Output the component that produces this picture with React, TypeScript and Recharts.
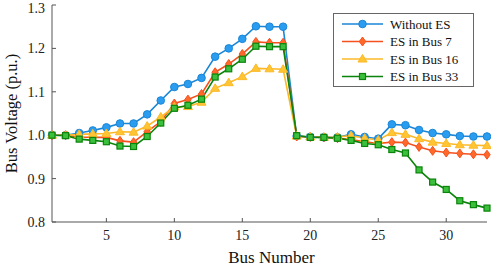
import { LineChart, Line, XAxis, YAxis, Legend } from "recharts"

const buses = [1, 2, 3, 4, 5, 6, 7, 8, 9, 10, 11, 12, 13, 14, 15, 16, 17, 18, 19, 20, 21, 22, 23, 24, 25, 26, 27, 28, 29, 30, 31, 32, 33]

const withoutEs = [1.0, 1.0, 1.005, 1.011, 1.018, 1.027, 1.027, 1.048, 1.08, 1.111, 1.118, 1.132, 1.181, 1.2, 1.222, 1.251, 1.25, 1.25, 0.998, 0.996, 0.995, 0.995, 1.002, 0.996, 0.992, 1.025, 1.023, 1.012, 1.005, 1.002, 0.998, 0.997, 0.997]
const esBus7 = [1.0, 1.0, 0.996, 0.995, 0.995, 0.987, 0.984, 1.008, 1.031, 1.073, 1.082, 1.095, 1.145, 1.164, 1.187, 1.215, 1.213, 1.213, 0.997, 0.996, 0.995, 0.993, 0.99, 0.985, 0.981, 0.984, 0.983, 0.973, 0.964, 0.96, 0.958, 0.956, 0.955]
const esBus16 = [1.0, 1.0, 1.002, 1.003, 1.004, 1.008, 1.007, 1.021, 1.042, 1.065, 1.066, 1.076, 1.108, 1.121, 1.135, 1.154, 1.153, 1.152, 0.998, 0.996, 0.995, 0.996, 0.999, 0.993, 0.989, 1.006, 1.002, 0.992, 0.984, 0.981, 0.978, 0.977, 0.976]
const esBus33 = [1.0, 0.999, 0.991, 0.988, 0.985, 0.975, 0.974, 0.997, 1.028, 1.062, 1.069, 1.083, 1.134, 1.153, 1.175, 1.205, 1.204, 1.204, 0.999, 0.995, 0.995, 0.993, 0.988, 0.981, 0.978, 0.967, 0.959, 0.92, 0.892, 0.875, 0.849, 0.84, 0.832]

const xTicks = [5, 10, 15, 20, 25, 30]
const yTicks = [0.8, 0.9, 1.0, 1.1, 1.2, 1.3]

const data = buses.map((bus, i) => ({
  bus,
  withoutEs: withoutEs[i],
  esBus7: esBus7[i],
  esBus16: esBus16[i],
  esBus33: esBus33[i],
}))

const series = [
  { key: "withoutEs", name: "Without ES", color: "#1a86d6", fill: "#2a9df0", shape: "circle" },
  { key: "esBus7", name: "ES in Bus 7", color: "#f4511e", fill: "#ff6a2a", shape: "diamond" },
  { key: "esBus16", name: "ES in Bus 16", color: "#fdb827", fill: "#ffc533", shape: "triangle" },
  { key: "esBus33", name: "ES in Bus 33", color: "#0a840a", fill: "#3cbf3c", shape: "square" },
]

const font = '"Times New Roman", "Liberation Serif", "DejaVu Serif", serif'
const axisColor = "#555"

function Marker({ cx, cy, shape, color, fill }: any) {
  if (cx == null || cy == null) return null
  if (shape === "circle") return <circle cx={cx} cy={cy} r={3.8} fill={fill} stroke={color} strokeWidth={1} />
  if (shape === "diamond")
    return <polygon points={`${cx},${cy - 4.5} ${cx + 3.2},${cy} ${cx},${cy + 4.5} ${cx - 3.2},${cy}`} fill={fill} stroke={color} strokeWidth={1} />
  if (shape === "triangle")
    return <polygon points={`${cx},${cy - 4.5} ${cx + 4.5},${cy + 3} ${cx - 4.5},${cy + 3}`} fill={fill} stroke={color} strokeWidth={1} />
  return <rect x={cx - 3} y={cy - 3} width={6} height={6} fill={fill} stroke={color} strokeWidth={1.2} />
}

function LegendBox() {
  return (
    <svg width={141} height={74} style={{ display: "block" }}>
      <rect x={0.5} y={0.5} width={140} height={73} fill="#fff" stroke="#666" strokeWidth={1} />
      {series.map((s, i) => {
        const y = 11 + i * 17.5
        return (
          <g key={s.key}>
            <line x1={9} x2={50} y1={y} y2={y} stroke={s.color} strokeWidth={1.6} />
            <Marker cx={29.5} cy={y} shape={s.shape} color={s.color} fill={s.fill} />
            <text x={57} y={y + 4.5} fontSize={13} style={{ fontFamily: font }} fill="#111">
              {s.name}
            </text>
          </g>
        )
      })}
    </svg>
  )
}

export default function App() {
  return (
    <div style={{ position: "absolute", left: 0, top: 0, background: "#fff", fontFamily: font }}>
      <LineChart width={491} height={267} data={data} margin={{ top: 5, right: 4, bottom: 0, left: 0 }} style={{ fontFamily: font }}>
        <XAxis
          dataKey="bus"
          type="number"
          domain={[1, 33]}
          ticks={xTicks}
          height={45}
          stroke={axisColor}
          tickSize={-4}
          tickMargin={12}
          tick={{ fill: "#222", fontSize: 14, style: { fontFamily: font } }}
          label={{ value: "Bus Number", position: "insideBottom", offset: 4, dx: 2, fill: "#111", fontSize: 17, style: { fontFamily: font } }}
        />
        <XAxis xAxisId="top" dataKey="bus" type="number" domain={[1, 33]} ticks={xTicks} orientation="top" height={0} stroke={axisColor} tickSize={-4} tick={false} />
        <YAxis
          domain={[0.8, 1.3]}
          ticks={yTicks}
          width={52}
          stroke={axisColor}
          tickSize={-4}
          tickMargin={11}
          tickFormatter={(v: number) => v.toFixed(1)}
          tick={{ fill: "#222", fontSize: 14, style: { fontFamily: font } }}
          label={{ value: "Bus Voltage (p.u.)", angle: -90, position: "center", dx: -15, fill: "#111", fontSize: 16.5, style: { fontFamily: font } }}
        />
        <YAxis yAxisId="right" domain={[0.8, 1.3]} ticks={yTicks} orientation="right" width={0} stroke={axisColor} tickSize={-4} tick={false} />
        <Legend
          layout="vertical"
          align="center"
          verticalAlign="middle"
          wrapperStyle={{ left: 333, top: 13, width: 141, height: 74 }}
          content={() => <LegendBox />}
        />
        {series.map((s) => (
          <Line
            key={s.key}
            dataKey={s.key}
            name={s.name}
            stroke={s.color}
            strokeWidth={1.6}
            isAnimationActive={false}
            dot={(p: any) => <Marker key={`${s.key}-${p.index}`} cx={p.cx} cy={p.cy} shape={s.shape} color={s.color} fill={s.fill} />}
            activeDot={false}
          />
        ))}
      </LineChart>
    </div>
  )
}
